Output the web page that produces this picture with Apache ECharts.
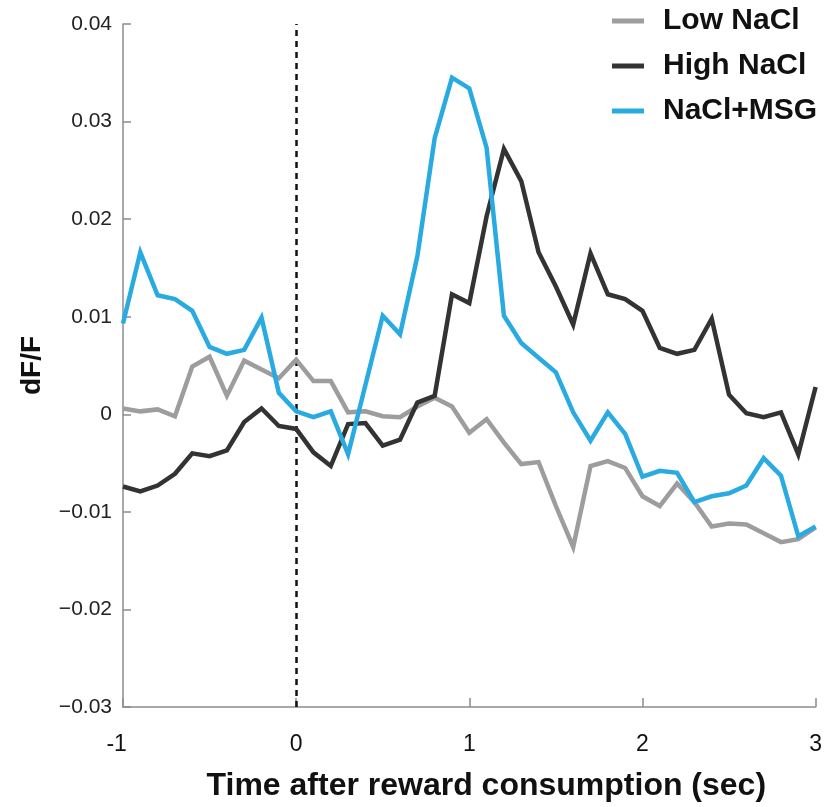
<!DOCTYPE html>
<html>
<head>
<meta charset="utf-8">
<script src="https://cdn.jsdelivr.net/npm/echarts@6/dist/echarts.min.js"></script>
<style>
html,body{margin:0;padding:0;background:#fff;}
#chart{width:825px;height:807px;}
</style>
</head>
<body>
<div id="chart"></div>
<script>
var times = [-1,-0.9,-0.8,-0.7,-0.6,-0.5,-0.4,-0.3,-0.2,-0.1,0,0.1,0.2,0.3,0.4,0.5,0.6,0.7,0.8,0.9,1,1.1,1.2,1.3,1.4,1.5,1.6,1.7,1.8,1.9,2,2.1,2.2,2.3,2.4,2.5,2.6,2.7,2.8,2.9,3];
var lowNaCl = [0.0006,0.0003,0.0005,-0.0002,0.0049,0.0059,0.0019,0.0055,0.0046,0.0037,0.0056,0.0034,0.0034,0.0002,0.0003,-0.0002,-0.0003,0.0008,0.0017,0.0008,-0.0019,-0.0005,-0.0029,-0.0051,-0.0049,-0.0094,-0.0136,-0.0053,-0.0048,-0.0055,-0.0084,-0.0094,-0.0071,-0.0090,-0.0115,-0.0112,-0.0113,-0.0122,-0.0131,-0.0128,-0.0116];
var highNaCl = [-0.0074,-0.0079,-0.0073,-0.0061,-0.0040,-0.0043,-0.0037,-0.0008,0.0006,-0.0012,-0.0015,-0.0039,-0.0053,-0.0010,-0.0009,-0.0032,-0.0026,0.0012,0.0019,0.0123,0.0114,0.0203,0.0272,0.0239,0.0166,0.0131,0.0092,0.0165,0.0123,0.0118,0.0106,0.0068,0.0062,0.0066,0.0098,0.0020,0.0001,-0.0003,0.0002,-0.0041,0.0028];
var naclMSG = [0.0093,0.0166,0.0122,0.0118,0.0106,0.0069,0.0062,0.0066,0.0099,0.0022,0.0003,-0.0003,0.0003,-0.0041,0.0030,0.0101,0.0082,0.0162,0.0283,0.0345,0.0334,0.0273,0.0101,0.0073,0.0058,0.0043,0.0002,-0.0027,0.0002,-0.0020,-0.0064,-0.0058,-0.0060,-0.0090,-0.0084,-0.0081,-0.0073,-0.0045,-0.0063,-0.0125,-0.0115];
var seriesNames = ['Low NaCl','High NaCl','NaCl+MSG'];
var seriesColors = ['#9d9d9d','#333333','#29abe2'];
var xTitle = 'Time after reward consumption (sec)';
var yTitle = 'dF/F';

function pairs(vals){ return times.map(function(t,i){ return [t, vals[i]]; }); }
var FONT = "'Liberation Sans', Arial, sans-serif";
var axisColor = '#8c8c8c';

var chart = echarts.init(document.getElementById('chart'), null, {renderer:'canvas'});
var allVals = [lowNaCl, highNaCl, naclMSG];
var series = allVals.map(function(v, k){
  var s = {
    name: seriesNames[k], type:'line', data: pairs(v),
    showSymbol:false, symbol:'none', smooth:false,
    lineStyle:{color:seriesColors[k], width:4.5, join:'miter'},
    itemStyle:{color:seriesColors[k]},
    z: 3 + k
  };
  if (k === 0) {
    s.markLine = {
      silent:true, symbol:['none','none'], label:{show:false},
      lineStyle:{color:'#111', type:[6,5], width:2.5},
      data:[{xAxis:0}], animation:false, z: 1
    };
  }
  return s;
});

chart.setOption({
  animation:false,
  backgroundColor:'#fff',
  grid:{left:123, right:7, top:24, bottom:99, containLabel:false},
  legend:{
    orient:'vertical', left:612, top:6, padding:0,
    icon:'rect', itemWidth:32, itemHeight:5, itemGap:15,
    data: seriesNames,
    textStyle:{fontFamily:FONT, fontWeight:'bold', fontSize:30, color:'#111', lineHeight:30, padding:[0,0,0,14]}
  },
  xAxis:{
    type:'value', min:-1, max:3, interval:1,
    name:xTitle, nameLocation:'middle', nameGap:63,
    nameTextStyle:{fontFamily:FONT, fontWeight:'bold', fontSize:32, color:'#111', padding:[0,0,0,34]},
    axisLine:{show:true, onZero:false, lineStyle:{color:axisColor, width:1.5}},
    axisTick:{show:true, inside:true, length:9, lineStyle:{color:axisColor, width:1.5}},
    axisLabel:{fontFamily:FONT, fontSize:23, color:'#111', margin:26,
      formatter:function(v){ return v < 0 ? String(v) + '  ' : String(v); }},
    splitLine:{show:false}
  },
  yAxis:{
    type:'value', min:-0.03, max:0.04, interval:0.01,
    name:yTitle, nameLocation:'middle', nameGap:77, nameRotate:90,
    nameTextStyle:{fontFamily:FONT, fontWeight:'bold', fontSize:28, color:'#111'},
    axisLine:{show:true, onZero:false, lineStyle:{color:axisColor, width:1.5}},
    axisTick:{show:true, inside:true, length:8, lineStyle:{color:axisColor, width:1.5}},
    axisLabel:{fontFamily:FONT, fontSize:21, color:'#222', margin:11,
      formatter:function(v){
        var r = Math.round(v*100)/100;
        if (Math.abs(r) < 1e-9) return '0';
        var s = Math.abs(r).toFixed(2);
        return (r < 0 ? '\u2212' : '') + s;
      }},
    splitLine:{show:false}
  },
  series: series
});
</script>
</body>
</html>
